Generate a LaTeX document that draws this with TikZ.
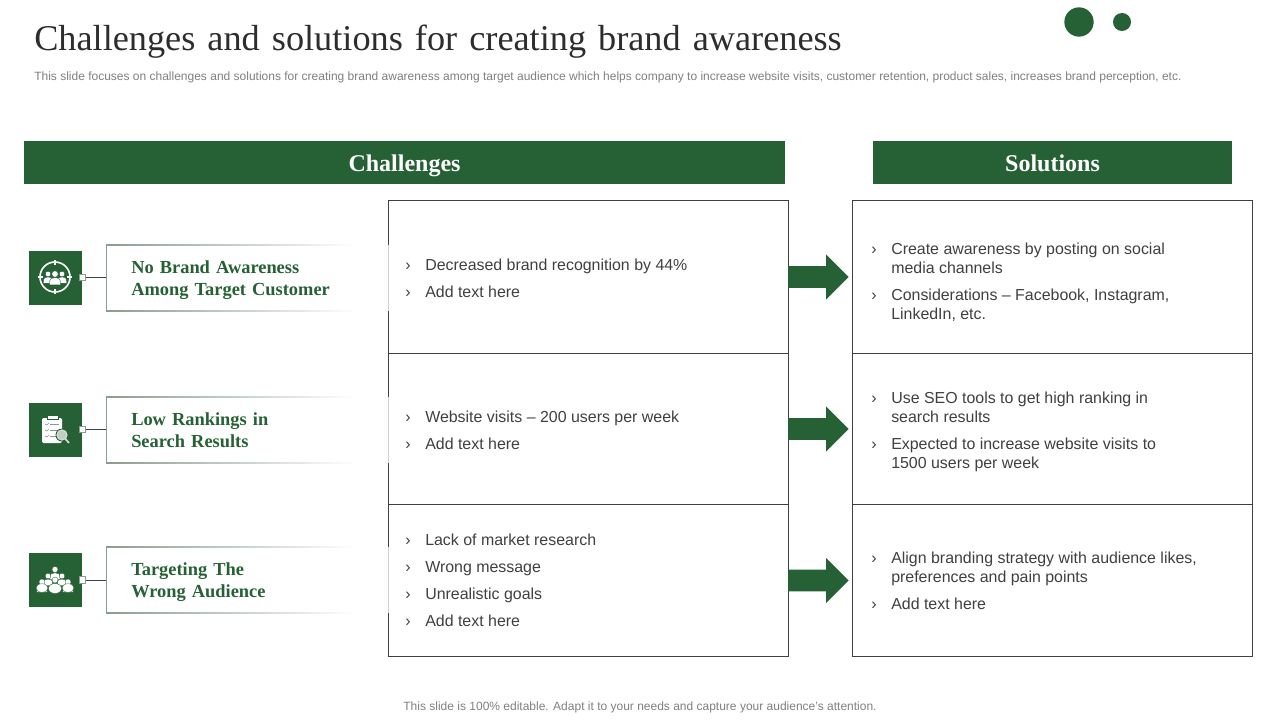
\documentclass[tikz,border=0pt]{standalone}
\usepackage{fontspec}
\setmainfont{Liberation Sans}
\newfontfamily\serifA{Liberation Serif}
\newfontfamily\labfont[WordSpace=.6]{Liberation Serif}
\newfontfamily\titlefont[WordSpace=1.33]{Liberation Serif}
\usetikzlibrary{shapes.arrows}
\definecolor{brand}{HTML}{266135}
\definecolor{bodyc}{HTML}{404040}
\definecolor{mutedc}{HTML}{808080}
\definecolor{edgec}{HTML}{8A9C8E}
\newcommand{\bl}[4]{%
  \node[chev] (#1c) at (#2-17,#3) {›};
  \node[bodytxt] (#1) at (#2,#3) {#4};}
\newcommand{\cont}[4]{\node[bodytxt] (#1) at (#2,#3) {#4};}
\newcommand{\person}[3]{%
  \fill[white,draw=brand,line width=.25pt] (#1-1.7*#3,#2+3.4*#3) .. controls (#1-1.9*#3,#2+1.2*#3) and (#1-.8*#3,#2+1.1*#3) .. (#1,#2+1.1*#3) .. controls (#1+.8*#3,#2+1.1*#3) and (#1+1.9*#3,#2+1.2*#3) .. (#1+1.7*#3,#2+3.4*#3) -- cycle;
  \fill[white,draw=brand,line width=.25pt] (#1,#2) circle (#3);}
\tikzset{
  x=0.75pt,y=-0.75pt,
  head/.style={fill=brand,text=white,inner sep=0pt,text height=12.8pt,text depth=0pt,font=\serifA\bfseries\fontsize{18}{20}\selectfont},
  tbox/.style={draw=bodyc,line width=.75pt,fill=white,inner sep=0pt},
  iconbox/.style={fill=brand,inner sep=0pt,minimum width=39.75pt,minimum height=40.5pt},
  knob/.style={fill=white,draw=edgec,line width=.6pt,inner sep=0pt,minimum size=5pt},
  lab/.style={fill=white,inner sep=0pt,minimum width=211.5pt,minimum height=49.5pt},
  labtxt/.style={anchor=base west,align=left,inner sep=0pt,text=brand,font=\labfont\bfseries\fontsize{13.8}{16.5}\selectfont},
  bodytxt/.style={anchor=base west,inner sep=0pt,text=bodyc,font=\fontsize{11.95}{14}\selectfont},
  chev/.style={anchor=base,inner sep=0pt,text=bodyc,font=\fontsize{12}{14}\selectfont},
  muted/.style={inner sep=0pt,text=mutedc},
  conn/.style={draw=bodyc,line width=.75pt},
  bigarrow/.style={single arrow,fill=brand,inner xsep=0pt,inner ysep=8pt,outer sep=0pt,minimum height=45.5pt,single arrow head extend=8.7pt,single arrow tip angle=90,anchor=west},
}
\begin{document}
\begin{tikzpicture}
\useasboundingbox (0,0) rectangle (1280,720);
\fill[white] (0,0) rectangle (1280,720);
% title
\node[anchor=base west,inner sep=0pt,text=bodyc!70!black,font=\titlefont\fontsize{27.2}{30}\selectfont] (title) at (34,51) {Challenges and solutions for creating brand awareness};
\node[anchor=base west,muted,font=\fontsize{9}{11}\selectfont] (sub) at (34,81) {This slide focuses on challenges and solutions for creating brand awareness among target audience which helps company to increase website visits, customer retention, product sales, increases brand perception, etc.};
\node[fill=brand,circle,inner sep=0pt,minimum size=22pt] (dot1) at (1079,22) {};
\node[fill=brand,circle,inner sep=0pt,minimum size=13.5pt] (dot2) at (1122,22) {};
% headers
\node[head,minimum width=570.75pt,minimum height=32.25pt] (hc) at (404.5,162.5) {Challenges};
\node[head,minimum width=269.25pt,minimum height=32.25pt] (hs) at (1052.5,162.5) {Solutions};
% tables
\node[tbox,minimum width=300pt,minimum height=114.4pt] (c1) at (588.5,276.75) {};
\node[tbox,minimum width=300pt,minimum height=113.25pt] (c2) at (588.5,428.5) {};
\node[tbox,minimum width=300pt,minimum height=114pt] (c3) at (588.5,580) {};
\node[tbox,minimum width=300pt,minimum height=114.4pt] (s1) at (1052.5,276.75) {};
\node[tbox,minimum width=300pt,minimum height=113.25pt] (s2) at (1052.5,428.5) {};
\node[tbox,minimum width=300pt,minimum height=114pt] (s3) at (1052.5,580) {};
% arrows
\node[bigarrow] (a1) at (788,277) {};
\node[bigarrow] (a2) at (788,429) {};
\node[bigarrow] (a3) at (788,580.5) {};
% label boxes
\node[lab] (l1) at (247.5,278) {};
\node[lab] (l2) at (247.5,430) {};
\node[lab] (l3) at (247.5,580) {};
\foreach \n in {l1,l2,l3}{
  \draw[edgec,line width=.75pt] (\n.north west) -- (\n.south west);
  \shade[left color=edgec,right color=white] (\n.north west) rectangle ++(250,1);
  \shade[left color=edgec,right color=white] (\n.south west) rectangle ++(250,-1);
  \draw[black!18,line width=.75pt] (\n.north east) -- (\n.south east);
}
\node[labtxt] (t1) at (131,295) {No Brand Awareness\\Among Target Customer};
\node[labtxt] (t2) at (131,447) {Low Rankings in\\Search Results};
\node[labtxt] (t3) at (131,597) {Targeting The\\Wrong Audience};
% icons
\node[iconbox] (i1) at (55.5,278) {};
\node[iconbox] (i2) at (55.5,430) {};
\node[iconbox] (i3) at (55.5,580) {};
\node[knob] (k1) at (82.5,277.5) {};
\node[knob] (k2) at (82.5,429.5) {};
\node[knob] (k3) at (82.5,580) {};
\draw[conn] (k1) -- (k1-|l1.west);
\draw[conn] (k2) -- (k2-|l2.west);
\draw[conn] (k3) -- (k3-|l3.west);
% icon 1
\draw[white,line width=1.2pt] (55,277) circle (15);
\foreach \a in {0,90,180,270}{\draw[white,line width=1pt] (55,277) ++(\a:-12) -- ++(\a:-5);}
\person{48}{274}{2.7}
\person{62}{274}{2.7}
\person{55}{274}{3.2}
% icon 2
\fill[white,rounded corners=1pt] (42,418) rectangle (62,443);
\fill[white,draw=brand,line width=.4pt] (47,419.5) rectangle (58,415.5);
\foreach \yy in {424,430,436}{
  \draw[brand!60!white,line width=.5pt] (45,\yy) -- (47,\yy+1) -- (49,\yy-1);
  \draw[brand!60!white,line width=.5pt] (50,\yy) -- (59,\yy);
}
\fill[brand] (62,435) circle (6.5);
\draw[white!85!black,line width=.9pt,fill=white!70!brand] (62,435) circle (5);
\draw[white!85!black,line width=1.3pt] (65.5,439) -- (69,443);
% icon 3
\person{55}{569.5}{3}
\person{48}{576}{2.8}
\person{62}{576}{2.8}
\person{42}{582}{3}
\person{68}{582}{3}
\person{55}{580}{3}
\fill[white,draw=brand,line width=.25pt] (42,588) ellipse (6 and 4.3);
\fill[white,draw=brand,line width=.25pt] (68,588) ellipse (6 and 4.3);
\fill[white,draw=brand,line width=.25pt] (55,588.5) ellipse (6.5 and 5);
% text
\bl{a}{425}{270}{Decreased brand recognition by 44\%}
\bl{b}{425}{297}{Add text here}
\bl{d}{425}{422}{Website visits – 200 users per week}
\bl{e}{425}{449}{Add text here}
\bl{f}{425}{545}{Lack of market research}
\bl{g}{425}{572}{Wrong message}
\bl{h}{425}{599}{Unrealistic goals}
\bl{j}{425}{626}{Add text here}
\bl{m}{891}{254}{Create awareness by posting on social}
\cont{m2}{891}{273}{media channels}
\bl{n}{891}{300}{Considerations – Facebook, Instagram,}
\cont{n2}{891}{319}{LinkedIn, etc.}
\bl{o}{891}{403}{Use SEO tools to get high ranking in}
\cont{o2}{891}{422}{search results}
\bl{p}{891}{449}{Expected to increase website visits to}
\cont{p2}{891}{468}{1500 users per week}
\bl{q}{891}{563}{Align branding strategy with audience likes,}
\cont{q2}{891}{582}{preferences and pain points}
\bl{r}{891}{609}{Add text here}
% footer
\node[anchor=base,muted,font=\fontsize{9}{11}\selectfont] (foot) at (640,710) {This slide is 100\% editable. Adapt it to your needs and capture your audience’s attention.};
\end{tikzpicture}
\end{document}
